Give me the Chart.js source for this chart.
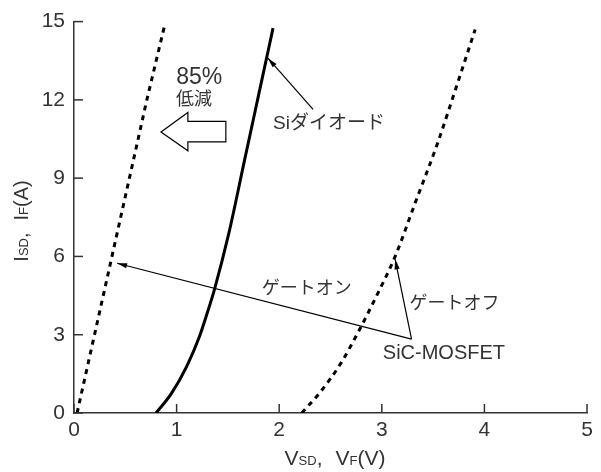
<!DOCTYPE html>
<html>
<head>
<meta charset="utf-8">
<script src="https://cdn.jsdelivr.net/npm/chart.js@4.4.1/dist/chart.umd.min.js"></script>
<style>
html,body{margin:0;padding:0;background:#fff;}
#wrap{width:601px;height:472px;position:relative;}
</style>
</head>
<body>
<div id="wrap"><canvas id="c" width="601" height="472"></canvas></div>
<script>
// ---- data (V in volts, I in amperes) ----
const xTicks = [0, 1, 2, 3, 4, 5];
const yTicks = [0, 3, 6, 9, 12, 15];

const gateOnV = [0.03, 0.20, 0.37, 0.54, 0.71, 0.886];
const gateOnI = [0, 3, 6, 9, 12, 14.9];

const siDiodeV = [0.80, 0.95, 1.10, 1.22, 1.30, 1.37, 1.51, 1.665, 1.80, 1.94];
const siDiodeI = [0, 0.75, 1.8, 2.9, 3.85, 4.75, 6.9, 9.74, 12.2, 14.75];

const gateOffV = [2.22, 2.40, 2.60, 2.77, 2.95, 3.13, 3.33, 3.54, 3.76, 3.91];
const gateOffI = [0, 0.8, 1.9, 3.1, 4.5, 6.0, 8.1, 10.3, 12.9, 14.7];

// annotation labels and their anchor points (data coords)
const labels = [
  {text: '85%', x: 1.22, y: 12.84, align: 'center', size: 23},
  {text: '低減', x: 1.17, y: 11.98, align: 'center', size: 18},
  {text: 'Siダイオード', x: 1.94, y: 11.07, align: 'left', size: 19},
  {text: 'ゲートオン', x: 1.83, y: 4.76, align: 'left', size: 18},
  {text: 'ゲートオフ', x: 3.27, y: 4.19, align: 'left', size: 18},
  {text: 'SiC-MOSFET', x: 3.01, y: 2.27, align: 'left', size: 20}
];
// arrows: [fromX, fromY, toX, toY]
const arrows = [
  [2.33, 11.64, 1.89, 13.6],
  [3.29, 2.83, 0.42, 5.74],
  [3.29, 2.83, 3.13, 5.89]
];
// hollow arrow: tip x, head base x, tail x, head top/bottom, shaft top/bottom (data coords)
const bigArrow = {tip: 0.848, base: 1.11, tail: 1.48, yMid: 10.77, headTop: 11.52, headBot: 10.05, shaftTop: 11.18, shaftBot: 10.39};

const FONT = '"Liberation Sans", "Noto Sans CJK JP", sans-serif';
const TXT = '#333';

function pts(xs, ys){ return xs.map((v,i)=>({x:v, y:ys[i]})); }

const overlay = {
  id: 'overlay',
  afterDraw(chart){
    const ctx = chart.ctx;
    const xs = chart.scales.x, ys = chart.scales.y;
    const ca = chart.chartArea;
    ctx.save();
    // inward ticks
    ctx.strokeStyle = '#333';
    ctx.lineWidth = 1.5;
    xTicks.forEach(v=>{
      const px = xs.getPixelForValue(v);
      ctx.beginPath(); ctx.moveTo(px, ca.bottom); ctx.lineTo(px, ca.bottom-9); ctx.stroke();
    });
    yTicks.forEach(v=>{
      const py = ys.getPixelForValue(v);
      ctx.beginPath(); ctx.moveTo(ca.left, py); ctx.lineTo(ca.left+9, py); ctx.stroke();
    });

    // arrows
    ctx.strokeStyle = '#000'; ctx.fillStyle = '#000'; ctx.lineWidth = 1.2;
    arrows.forEach(a=>{
      const x1 = xs.getPixelForValue(a[0]), y1 = ys.getPixelForValue(a[1]);
      const x2 = xs.getPixelForValue(a[2]), y2 = ys.getPixelForValue(a[3]);
      ctx.beginPath(); ctx.moveTo(x1,y1); ctx.lineTo(x2,y2); ctx.stroke();
      const ang = Math.atan2(y2-y1, x2-x1);
      const L = 10, W = 2.6;
      ctx.beginPath();
      ctx.moveTo(x2,y2);
      ctx.lineTo(x2 - L*Math.cos(ang) + W*Math.sin(ang), y2 - L*Math.sin(ang) - W*Math.cos(ang));
      ctx.lineTo(x2 - L*Math.cos(ang) - W*Math.sin(ang), y2 - L*Math.sin(ang) + W*Math.cos(ang));
      ctx.closePath(); ctx.fill();
    });

    // hollow arrow
    const b = bigArrow;
    const X = v=>xs.getPixelForValue(v), Y = v=>ys.getPixelForValue(v);
    ctx.beginPath();
    ctx.moveTo(X(b.tip), Y(b.yMid));
    ctx.lineTo(X(b.base), Y(b.headTop));
    ctx.lineTo(X(b.base), Y(b.shaftTop));
    ctx.lineTo(X(b.tail), Y(b.shaftTop));
    ctx.lineTo(X(b.tail), Y(b.shaftBot));
    ctx.lineTo(X(b.base), Y(b.shaftBot));
    ctx.lineTo(X(b.base), Y(b.headBot));
    ctx.closePath();
    ctx.fillStyle = '#fff'; ctx.fill();
    ctx.strokeStyle = '#000'; ctx.lineWidth = 1.2; ctx.stroke();

    // labels
    ctx.fillStyle = TXT;
    ctx.textBaseline = 'middle';
    labels.forEach(l=>{
      ctx.font = l.size + 'px ' + FONT;
      ctx.textAlign = l.align;
      ctx.fillText(l.text, X(l.x), Y(l.y));
    });

    // axis titles with subscripts
    function drawTitle(parts){
      let w = 0;
      parts.forEach(p=>{ ctx.font = p[1] + 'px ' + FONT; w += ctx.measureText(p[0]).width + (p[2]||0); });
      let x = -w/2;
      parts.forEach(p=>{
        ctx.font = p[1] + 'px ' + FONT;
        ctx.fillText(p[0], x, 0);
        x += ctx.measureText(p[0]).width + (p[2]||0);
      });
    }
    ctx.textAlign = 'left';
    ctx.textBaseline = 'alphabetic';
    const xParts = [['V',21],['SD',13],[',',21,13],['V',21],['F',13],['(V)',21]];
    ctx.save();
    ctx.translate(335, 465);
    drawTitle(xParts);
    ctx.restore();
    const yParts = [['I',20],['SD',13],[',',20,12],['I',20],['F',13],['(A)',20]];
    ctx.save();
    ctx.translate(28, 221);
    ctx.rotate(-Math.PI/2);
    drawTitle(yParts);
    ctx.restore();

    ctx.restore();
  }
};

new Chart(document.getElementById('c'), {
  type: 'scatter',
  data: {
    datasets: [
      {data: pts(gateOnV, gateOnI), showLine: true, borderColor: '#000', borderWidth: 3, borderDash: [5,5], pointRadius: 0, tension: 0},
      {data: pts(siDiodeV, siDiodeI), showLine: true, borderColor: '#000', borderWidth: 3, pointRadius: 0, cubicInterpolationMode: 'monotone'},
      {data: pts(gateOffV, gateOffI), showLine: true, borderColor: '#000', borderWidth: 3, borderDash: [5,5], pointRadius: 0, cubicInterpolationMode: 'monotone'}
    ]
  },
  options: {
    responsive: false,
    animation: false,
    devicePixelRatio: 1,
    layout: {padding: {left: 0, right: 14, top: 16, bottom: 0}},
    plugins: {legend: {display: false}, tooltip: {enabled: false}},
    scales: {
      x: {
        type: 'linear', min: 0, max: 5,
        afterBuildTicks: s => { s.ticks = xTicks.map(v=>({value:v})); },
        grid: {display: false, drawTicks: false},
        border: {display: true, color: '#333', width: 1.5},
        ticks: {color: TXT, font: {family: FONT, size: 21}, padding: 5, maxRotation: 0},
        afterFit: s => { s.height = 59; }
      },
      y: {
        type: 'linear', min: 0, max: 15,
        afterBuildTicks: s => { s.ticks = yTicks.map(v=>({value:v})); },
        grid: {display: false, drawTicks: false},
        border: {display: true, color: '#333', width: 1.5},
        ticks: {color: TXT, font: {family: FONT, size: 21}, padding: 9},
        afterFit: s => { s.width = 74; }
      }
    }
  },
  plugins: [overlay]
});
</script>
</body>
</html>
